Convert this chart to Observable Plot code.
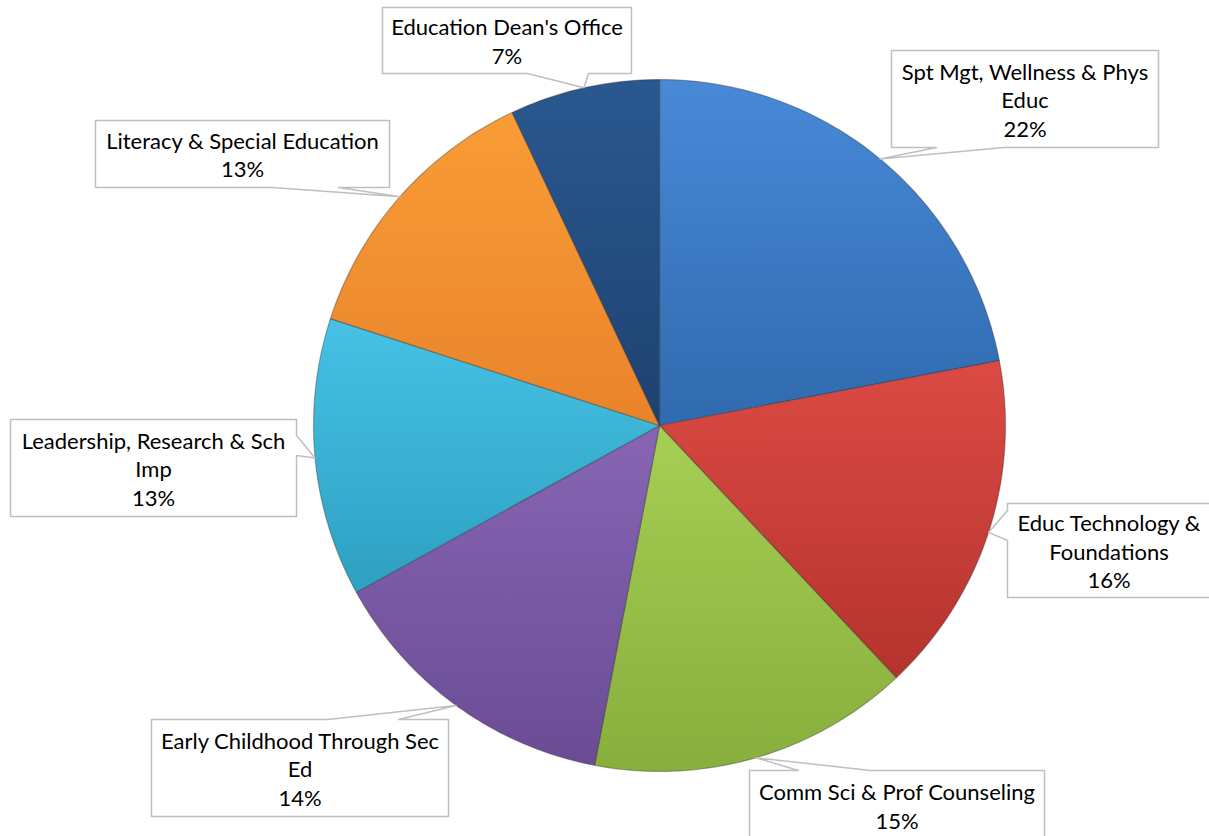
<!DOCTYPE html>
<html><head><meta charset="utf-8">
<script src="https://cdn.jsdelivr.net/npm/d3@7"></script>
<script src="https://cdn.jsdelivr.net/npm/@observablehq/plot@0.6"></script>
<style>html,body{margin:0;padding:0;background:#fff} #chart svg{display:block}</style>
</head><body><div id="chart"></div>
<script>
// ---- data ----
const departments = [
  "Spt Mgt, Wellness & Phys Educ",
  "Educ Technology & Foundations",
  "Comm Sci & Prof Counseling",
  "Early Childhood Through Sec Ed",
  "Leadership, Research & Sch Imp",
  "Literacy & Special Education",
  "Education Dean's Office"
];
const shares = [22, 16, 15, 14, 13, 13, 7];
const wrappedNames = [
  "Spt Mgt, Wellness & Phys\nEduc",
  "Educ Technology &\nFoundations",
  "Comm Sci & Prof Counseling",
  "Early Childhood Through Sec\nEd",
  "Leadership, Research & Sch\nImp",
  "Literacy & Special Education",
  "Education Dean's Office"
];

// ---- styles ----
const topColors = ["#4889d8", "#dc4a44", "#a6cf54", "#8765b4", "#46c2e4", "#f99c36", "#2a5890"];
const bottomColors = ["#306aae", "#b5332e", "#88ae3d", "#6a4c94", "#2ea0c2", "#e9832b", "#1e426f"];

// ---- layout (pixels) ----
const W = 1209, H = 836, CX = 659, CY = 425, R = 346;
const callouts = [
  {box: [891, 50, 1158, 147], side: "bottom", base: [936, 1003]},
  {box: [1007, 503, 1210, 597], side: "left", base: [510, 540]},
  {box: [749, 770, 1044, 840], side: "top", base: [798, 870]},
  {box: [151, 719, 448, 816], side: "top", base: [327, 398]},
  {box: [10, 419, 296, 516], side: "right", base: [435, 455]},
  {box: [95, 120, 389, 187], side: "bottom", base: [272, 338]},
  {box: [382, 7, 631, 73], side: "bottom", base: [527, 588]}
];

const toX = px => (px - CX) / R;
const toY = py => (CY - py) / R;

const arcs = d3.pie().sort(null).value(d => d)(shares);

function slicePoints(a, i) {
  const pts = [{id: i, x: 0, y: 0}];
  const n = Math.max(8, Math.ceil((a.endAngle - a.startAngle) / (Math.PI / 180)));
  for (let k = 0; k <= n; k++) {
    const t = a.startAngle + (a.endAngle - a.startAngle) * k / n;
    pts.push({id: i, x: Math.sin(t), y: Math.cos(t)});
  }
  return pts;
}

function calloutPoints(c, tip, i) {
  const [x0, y0, x1, y1] = c.box;
  const [b1, b2] = c.base;
  let v;
  if (c.side === "bottom") v = [[x0,y0],[x1,y0],[x1,y1],[b2,y1],tip,[b1,y1],[x0,y1]];
  else if (c.side === "top") v = [[x0,y0],[b1,y0],tip,[b2,y0],[x1,y0],[x1,y1],[x0,y1]];
  else if (c.side === "left") v = [[x0,y0],[x1,y0],[x1,y1],[x0,y1],[x0,b2],tip,[x0,b1]];
  else v = [[x0,y0],[x1,y0],[x1,b1],tip,[x1,b2],[x1,y1],[x0,y1]];
  return v.map(([px, py]) => ({id: i, x: toX(px), y: toY(py)}));
}

const marks = [];
arcs.forEach((a, i) => {
  marks.push(Plot.line(slicePoints(a, i), {
    x: "x", y: "y", curve: "linear-closed",
    fill: `url(#slice-grad-${i})`, stroke: "rgba(40,40,40,0.35)", strokeWidth: 1.2, strokeLinejoin: "round"
  }));
});
const labelData = [];
arcs.forEach((a, i) => {
  const mid = (a.startAngle + a.endAngle) / 2;
  const tip = [CX + R * Math.sin(mid), CY - R * Math.cos(mid)];
  marks.push(Plot.line(calloutPoints(callouts[i], tip, i), {
    x: "x", y: "y", curve: "linear-closed", fill: "white", stroke: "#bfbfbf", strokeWidth: 1.5
  }));
  const [x0, y0, x1, y1] = callouts[i].box;
  labelData.push({x: toX((x0 + x1) / 2), y: toY((y0 + y1) / 2), text: `${wrappedNames[i]}\n${shares[i]}%`});
});
marks.push(Plot.text(labelData, {
  x: "x", y: "y", text: "text", fill: "#000", fontSize: 22, lineHeight: 1.3,
  textAnchor: "middle", fontFamily: "Lato, 'Open Sans', sans-serif"
}));

const plot = Plot.plot({
  width: W, height: H, margin: 0,
  x: {domain: [toX(0), toX(W)], range: [0, W], axis: null},
  y: {domain: [toY(H), toY(0)], range: [H, 0], axis: null},
  style: {background: "white"},
  marks
});

const svg = d3.select(plot);
const defs = svg.insert("defs", ":first-child");
topColors.forEach((c, i) => {
  const g = defs.append("linearGradient").attr("id", `slice-grad-${i}`)
    .attr("x1", 0).attr("y1", 0).attr("x2", 0).attr("y2", 1);
  g.append("stop").attr("offset", "0%").attr("stop-color", c);
  g.append("stop").attr("offset", "100%").attr("stop-color", bottomColors[i]);
});
document.getElementById("chart").appendChild(plot);
</script>
</body></html>
